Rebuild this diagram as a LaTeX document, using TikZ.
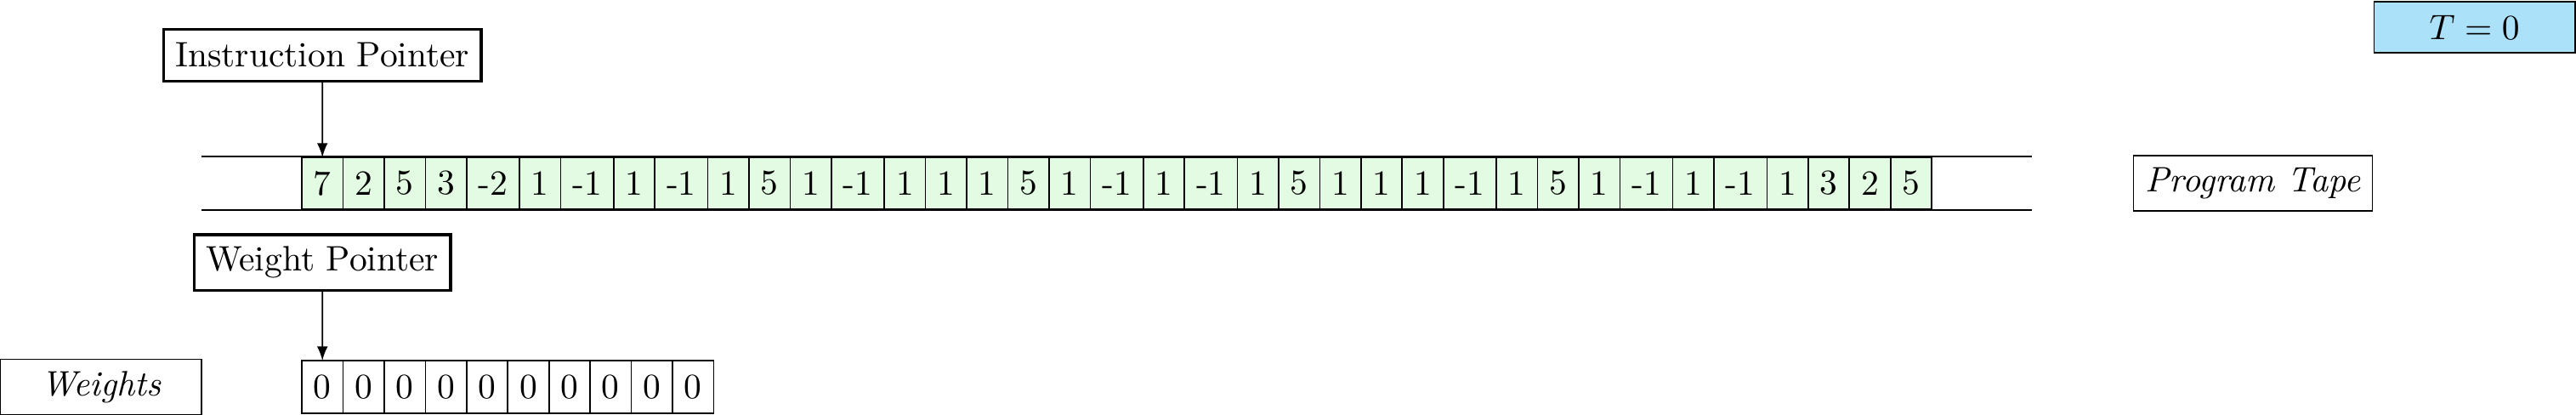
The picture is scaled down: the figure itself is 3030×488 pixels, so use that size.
\documentclass[tikz,border=0pt]{standalone}
\usetikzlibrary{arrows}
\definecolor{tapegreen}{RGB}{226,251,226}
\definecolor{timeblue}{RGB}{172,225,250}
\begin{document}
\begin{tikzpicture}[x=0.24079pt,y=-0.24079pt,
  tapecell/.style={draw, fill=tapegreen, minimum height=14.7pt, inner sep=3.333pt, outer sep=0pt},
  wcell/.style={draw, minimum height=14.9pt, inner sep=3.333pt, outer sep=0pt},
  pointerbox/.style={draw, thick, minimum height=14.6pt, inner sep=3.333pt},
  labelbox/.style={draw, minimum width=2cm, minimum height=15pt, font=\itshape},
  timebox/.style={draw, fill=timeblue, minimum width=2cm, minimum height=14.5pt},
  ptr/.style={-latex}
]
\useasboundingbox (0,0) rectangle (3030,488);

% labels
\node[timebox] (time) at (2910.7,32) {$T=0$};
\node[labelbox] (ptape) at (2650,215.5) {Program Tape};
\node[labelbox] (wlabel) at (118.7,455) {Weights};

% tape rails
\coordinate (railtl) at (237,184);
\coordinate (railtr) at (2390,184);
\coordinate (railbl) at (237,247);
\coordinate (railbr) at (2390,247);
\draw (railtl) -- (railtr);
\draw (railbl) -- (railbr);

% program tape cells
\node[tapecell, anchor=west] (t1) at (355,215.5) {7};
\foreach \v [count=\i from 2, remember=\i as \j (initially 1)] in
  {2,5,3,-2,1,-1,1,-1,1,5,1,-1,1,1,1,5,1,-1,1,-1,1,5,1,1,1,-1,1,5,1,-1,1,-1,1,3,2,5}
  \node[tapecell, anchor=west] (t\i) at (t\j.east) {\v};

% weight cells
\node[wcell, anchor=west] (w1) at (355,455) {0};
\foreach \i [remember=\i as \j (initially 1)] in {2,...,10}
  \node[wcell, anchor=west] (w\i) at (w\j.east) {0};

% pointers
\node[pointerbox] (ip) at (379.2,65) {Instruction Pointer};
\node[pointerbox] (wp) at (379.2,308.7) {Weight Pointer};
\draw[ptr] (ip.south) -- (t1.north);
\draw[ptr] (wp.south) -- (w1.north);
\end{tikzpicture}
\end{document}
